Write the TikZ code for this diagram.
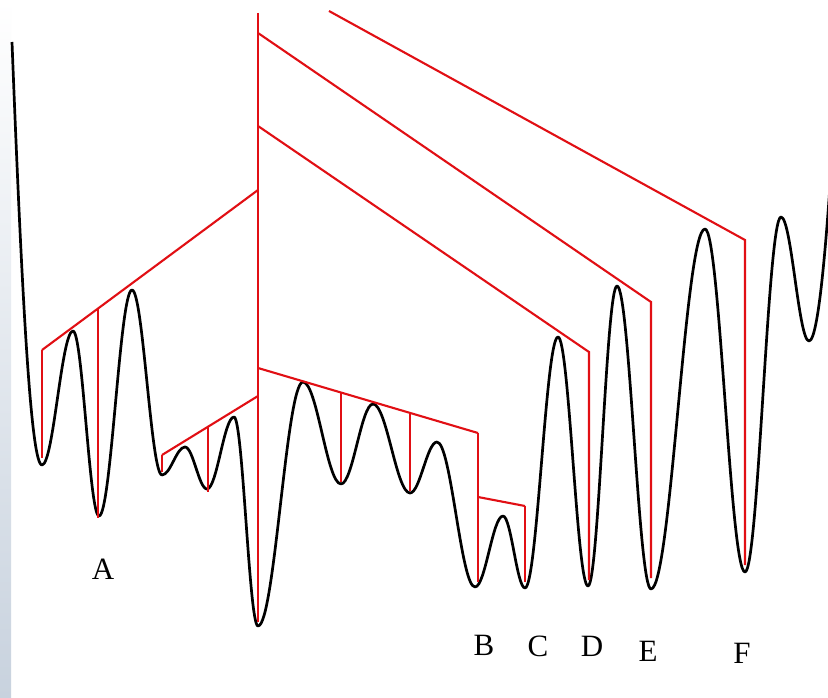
\documentclass[tikz,border=0pt]{standalone}
\usepackage{fontspec}
\setmainfont{Liberation Serif}
\definecolor{treered}{RGB}{225,15,20}
\definecolor{stripgray}{RGB}{200,210,222}
\begin{document}
\begin{tikzpicture}[x=1pt,y=-1pt,
  curve/.style={black,line width=2.7pt,line join=round},
  branch/.style={treered,line width=2.1pt,line join=miter},
  drop/.style={treered,line width=1.3pt},
  lbl/.style={font=\fontsize{31}{31}\selectfont,inner sep=0pt}]
\useasboundingbox (0,0) rectangle (828,698);
\fill[white] (0,0) rectangle (828,698);
\shade[top color=white,bottom color=stripgray] (0,0) rectangle (11,698);
\clip (0,0) rectangle (828,698);
% energy landscape
\draw[curve] (12,42) .. controls (22,300) and (31,465) .. (42,465)
 .. controls (53.5,465) and (61.5,331) .. (73,331)
 .. controls (82.6,331) and (89.4,516) .. (99,516)
 .. controls (111.2,516) and (119.8,290) .. (132,290)
 .. controls (143.1,290) and (150.9,475) .. (162,475)
 .. controls (170.5,475) and (176.5,447) .. (185,447)
 .. controls (193.1,447) and (198.9,489) .. (207,489)
 .. controls (217,489) and (224,417) .. (234,417)
 .. controls (242.9,417) and (249.1,626) .. (258,626)
 .. controls (274.7,626) and (286.3,382) .. (303,382)
 .. controls (317.1,382) and (326.9,484) .. (341,484)
 .. controls (352.8,484) and (361.2,404) .. (373,404)
 .. controls (386.7,404) and (396.3,493) .. (410,493)
 .. controls (420,493) and (427,442) .. (437,442)
 .. controls (451.1,442) and (460.9,587) .. (475,587)
 .. controls (485.4,587) and (492.6,516) .. (503,516)
 .. controls (511.1,516) and (516.9,588) .. (525,588)
 .. controls (537.2,588) and (545.8,337) .. (558,337)
 .. controls (569.1,337) and (576.9,586) .. (588,586)
 .. controls (598.7,586) and (606.3,286) .. (617,286)
 .. controls (629.6,286) and (638.4,589) .. (651,589)
 .. controls (671,589) and (685,229) .. (705,229)
 .. controls (719.8,229) and (730.2,572) .. (745,572)
 .. controls (758.3,572) and (767.7,217) .. (781,217)
 .. controls (791.4,217) and (798.6,341) .. (809,341)
 .. controls (819,341) and (828,230) .. (836,90);
% tree coordinates
\coordinate (trTop) at (258,13);
\coordinate (trBot) at (258,622);
\coordinate (fTop) at (329,11);
\coordinate (fCorner) at (745,240);
\coordinate (fBot) at (745,565);
\coordinate (eStart) at (258,33);
\coordinate (eCorner) at (651,302);
\coordinate (eBot) at (651,578);
\coordinate (dStart) at (258,126);
\coordinate (dCorner) at (589,352);
\coordinate (dBot) at (589,580);
\coordinate (aStart) at (258,190);
\coordinate (aCorner) at (42,350);
\coordinate (aBot1) at (42,458);
\coordinate (aMidTop) at (98,308.5);
\coordinate (aMidBot) at (98,518);
\coordinate (sStart) at (258,396);
\coordinate (sCorner) at (162,455);
\coordinate (sBot) at (162,472);
\coordinate (sMidTop) at (208,427);
\coordinate (sMidBot) at (208,492);
\coordinate (mStart) at (258,368);
\coordinate (mCorner) at (478,433);
\coordinate (mJoin) at (478,497);
\coordinate (mBot) at (478,582);
\coordinate (cCorner) at (525,506);
\coordinate (cBot) at (525,582);
\coordinate (m1Top) at (341,392.5);
\coordinate (m1Bot) at (341,482);
\coordinate (m2Top) at (410,413);
\coordinate (m2Bot) at (410,491);
% tree
\draw[branch] (trTop) -- (trBot);
\draw[branch] (fTop) -- (fCorner) -- (fBot);
\draw[branch] (eStart) -- (eCorner) -- (eBot);
\draw[branch] (dStart) -- (dCorner) -- (dBot);
\draw[branch] (aStart) -- (aCorner);
\draw[drop] (aCorner) -- (aBot1);
\draw[branch] (aMidTop) -- (aMidBot);
\draw[branch] (sStart) -- (sCorner);
\draw[drop] (sCorner) -- (sBot);
\draw[drop] (sMidTop) -- (sMidBot);
\draw[branch] (mStart) -- (mCorner);
\draw[drop] (mCorner) -- (mBot);
\draw[branch] (mJoin) -- (cCorner);
\draw[drop] (cCorner) -- (cBot);
\draw[drop] (m1Top) -- (m1Bot);
\draw[drop] (m2Top) -- (m2Bot);
% labels
\node[lbl] (labA) at (103,569) {A};
\node[lbl] (labB) at (484,645) {B};
\node[lbl] (labC) at (538,646) {C};
\node[lbl] (labD) at (592,646) {D};
\node[lbl] (labE) at (648,651) {E};
\node[lbl] (labF) at (742,653) {F};
\end{tikzpicture}
\end{document}
